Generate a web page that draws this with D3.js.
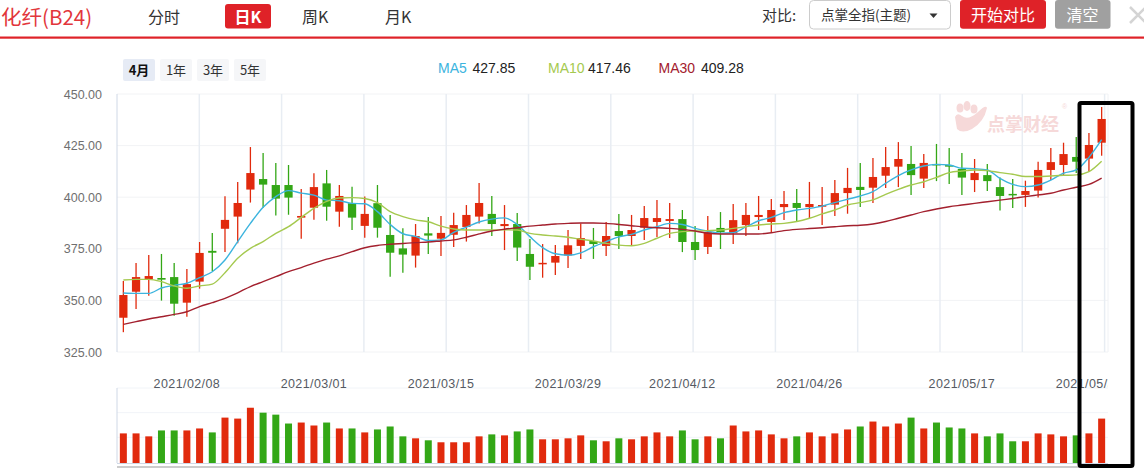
<!DOCTYPE html>
<html>
<head>
<meta charset="utf-8">
<script src="https://cdn.jsdelivr.net/npm/d3@7"></script>
<style>
body { margin: 0; background: #ffffff; overflow: hidden; }
text { font-family: "Liberation Sans", Arial, "Noto Sans CJK SC", sans-serif; }
.cn { font-family: "Noto Sans CJK SC", "Noto Sans", sans-serif; }
</style>
</head>
<body>
<div id="containerKline"></div>
<script>
// trading days shown in the chart (4 months)
var dates = [
	"2021/02/01","2021/02/02","2021/02/03","2021/02/04","2021/02/05",
	"2021/02/08","2021/02/09","2021/02/10","2021/02/18","2021/02/19",
	"2021/02/22","2021/02/23","2021/02/24","2021/02/25","2021/02/26",
	"2021/03/01","2021/03/02","2021/03/03","2021/03/04","2021/03/05",
	"2021/03/08","2021/03/09","2021/03/10","2021/03/11","2021/03/12",
	"2021/03/15","2021/03/16","2021/03/17","2021/03/18","2021/03/19",
	"2021/03/22","2021/03/23","2021/03/24","2021/03/25","2021/03/26",
	"2021/03/29","2021/03/30","2021/03/31","2021/04/01","2021/04/02",
	"2021/04/06","2021/04/07","2021/04/08","2021/04/09",
	"2021/04/12","2021/04/13","2021/04/14","2021/04/15","2021/04/16",
	"2021/04/19","2021/04/20","2021/04/21","2021/04/22","2021/04/23",
	"2021/04/26","2021/04/27","2021/04/28","2021/04/29","2021/04/30",
	"2021/05/06","2021/05/07",
	"2021/05/10","2021/05/11","2021/05/12","2021/05/13","2021/05/14",
	"2021/05/17","2021/05/18","2021/05/19","2021/05/20","2021/05/21",
	"2021/05/24","2021/05/25","2021/05/26","2021/05/27","2021/05/28",
	"2021/05/31","2021/06/01"
];

var opens = [341.6,354.2,360.2,360.85,361.3,348.9,359.1,374.0,384.7,390.6,
	403.7,408.8,405.9,405.9,390.1,394.9,406.7,393.0,397.1,386.1,
	397.1,381.7,375.2,371.7,382.5,379.9,381.8,385.6,390.6,391.9,
	386.0,387.0,372.5,367.8,368.3,371.8,376.4,378.8,376.4,383.6,
	381.2,385.2,388.0,388.5,389.4,378.3,375.9,385.1,382.6,386.5,
	390.4,388.0,395.2,397.2,395.2,395.4,396.4,402.0,405.0,404.6,
	410.4,414.8,416.1,409.0,416.1,415.6,413.7,408.3,410.7,404.9,
	401.6,401.1,403.2,413.2,415.6,419.5,418.7,426.4];

var closes = [352.6,361.3,361.8,360.05,348.4,357.9,373.0,373.1,389.0,397.2,
	411.7,406.1,399.3,399.8,390.9,404.9,395.4,400.6,390.1,391.9,
	385.2,373.1,372.2,381.2,381.4,382.7,386.5,391.4,397.2,387.0,
	387.0,375.6,366.3,368.2,371.5,376.7,380.2,377.3,381.2,381.2,
	384.1,389.9,389.9,389.4,378.3,374.4,383.1,383.1,388.9,391.4,
	391.4,393.8,396.7,394.8,396.7,396.2,402.0,404.5,403.5,409.8,
	414.6,418.5,410.7,416.6,415.4,414.8,409.5,411.7,407.8,400.6,
	401.1,403.0,413.2,417.0,420.9,417.2,425.3,437.9];

var highs = [359.4,368.1,372.0,372.5,368.1,365.2,378.3,382.7,400.5,407.4,
	424.3,421.4,416.6,415.6,404.0,411.6,413.2,405.9,405.1,400.3,
	405.9,391.4,384.9,387.0,390.4,390.9,392.5,396.2,406.9,400.6,
	396.2,392.3,379.7,377.3,376.8,384.1,387.3,385.1,388.0,391.9,
	391.4,395.7,398.6,397.2,393.8,386.0,390.9,392.8,396.7,397.2,
	400.6,399.1,403.0,404.0,407.4,404.9,408.3,414.2,416.6,419.0,
	424.3,426.7,424.8,420.9,425.8,423.8,421.4,418.5,416.1,409.5,
	408.8,408.0,417.2,423.8,426.4,429.2,431.1,443.7];

var lows = [334.6,345.8,352.3,349.9,342.6,342.1,355.7,364.2,373.5,377.7,
	397.4,394.9,391.1,391.5,379.9,389.1,388.6,385.7,384.1,380.4,
	380.4,361.5,363.4,365.9,372.5,371.5,375.9,378.5,387.3,381.2,
	374.4,369.1,359.9,361.0,362.3,365.7,370.1,370.1,371.5,374.9,
	376.5,379.3,380.7,380.2,373.4,369.6,372.5,374.9,377.3,381.2,
	384.1,383.1,389.0,388.5,389.9,386.5,390.9,392.0,395.3,397.2,
	404.5,404.9,401.1,404.5,407.8,406.4,401.1,402.5,403.0,393.5,
	394.8,395.3,399.8,408.3,410.7,411.7,412.4,420.1];

// moving averages as drawn on the chart
var ma5 = [353.6,353.4,353.4,356.0,357.3,358.3,361.0,363.9,369.6,378.5,
	387.3,395.1,400.3,403.2,402.0,401.0,398.6,398.3,397.0,396.8,
	393.0,386.8,382.3,381.0,379.0,379.3,383.0,385.5,388.0,389.4,
	390.0,386.8,380.9,375.6,372.6,371.9,373.0,376.0,378.5,380.8,
	382.0,384.1,385.7,387.3,386.8,384.9,383.5,382.6,382.8,385.6,
	388.6,390.2,392.5,393.8,394.6,395.7,397.4,399.0,400.6,402.7,
	406.7,410.5,413.2,415.1,415.9,415.6,414.0,413.8,413.2,409.1,
	406.2,405.1,405.9,408.3,411.6,413.2,419.3,427.85];

var ma10 = [359.9,360.2,360.2,359.1,357.0,355.9,357.0,357.9,363.4,370.4,
	375.2,378.5,382.5,385.7,390.2,394.6,398.0,399.6,399.8,399.4,
	397.4,393.0,390.6,389.0,388.1,386.0,384.6,384.1,384.1,384.1,
	384.2,384.1,382.5,381.7,381.2,380.6,379.6,378.8,377.6,376.8,
	376.5,377.6,380.1,382.5,383.3,383.6,383.8,384.1,384.9,385.7,
	386.5,387.0,387.3,388.2,389.8,391.9,393.8,396.2,397.4,398.7,
	401.4,403.8,405.9,407.5,409.6,411.9,412.7,413.2,412.9,411.9,
	411.1,410.0,410.0,410.3,410.6,410.8,412.4,417.46];

var ma30 = [338.4,339.7,341.0,342.1,343.2,344.5,347.0,348.9,351.0,353.7,
	356.7,359.1,361.5,363.9,365.9,368.1,370.0,371.6,373.6,375.5,
	376.6,377.2,377.6,378.0,378.3,378.8,379.3,380.6,382.2,383.6,
	384.5,385.2,386.0,386.5,387.0,387.3,387.5,387.5,387.3,386.8,
	386.2,385.6,385.2,384.9,384.4,383.6,382.5,382.2,382.2,382.2,
	382.2,382.8,383.8,384.4,384.8,385.2,385.7,386.2,386.4,387.0,
	388.2,389.8,391.4,393.0,394.3,395.4,396.2,397.0,397.8,398.6,
	399.4,400.3,401.1,401.9,403.5,404.8,406.2,409.28];

var volumes = [30,30,27,33,33,33,35,31,46,45,
	56,51,49,40,41,38,41,35,35,31,
	34,37,27,25,23,21,21,21,27,29,
	28,32,34,24,24,25,28,23,22,25,
	24,27,31,27,33,24,27,25,38,32,
	33,29,25,27,31,27,30,34,37,42,
	37,40,46,35,41,36,35,30,27,30,
	22,22,30,29,27,28,30,45];

var tickDates = ["2021/02/08","2021/03/01","2021/03/15","2021/03/29",
	"2021/04/12","2021/04/26","2021/05/17","2021/05/31"];
var yTicks = [325, 350, 375, 400, 425, 450];

var maNames = ["MA5", "MA10", "MA30"];
var maLast = ["427.85", "417.46", "409.28"];
var periods = ["4月", "1年", "3年", "5年"];
var tabs = ["分时", "日K", "周K", "月K"];

var svgKline;

// colours used by the chart
var upColor = "#e12a0d";
var downColor = "#33a716";
var maColors = ["#3cb4de", "#a5c94f", "#a3202e"];

// header with tabs, compare controls and period buttons
function drawHeader() {

	svgKline.append("text")
		.attr("class", "cn")
		.attr("x", 1)
		.attr("y", 25)
		.style("font-size", "20.5px")
		.style("fill", "#e2363b")
		.text("化纤(B24)");

	var tabX = [148, 225, 302, 385];
	svgKline.append("rect")
		.attr("x", 225).attr("y", 4)
		.attr("width", 46).attr("height", 24.5)
		.attr("rx", 3)
		.style("fill", "#df2228");
	svgKline.selectAll(".tab")
		.data(tabs)
		.enter()
		.append("text")
		.attr("class", "tab cn")
		.attr("x", function(d, i) { return i == 1 ? 248 : tabX[i]; })
		.attr("y", 23)
		.style("text-anchor", function(d, i) { return i == 1 ? "middle" : "start"; })
		.style("font-size", "16px")
		.style("font-weight", function(d, i) { return i == 1 ? "bold" : "normal"; })
		.style("fill", function(d, i) { return i == 1 ? "#ffffff" : "#333333"; })
		.text(function(d) { return d; });

	// red line under the tabs
	svgKline.append("rect")
		.attr("x", 0).attr("y", 36.5)
		.attr("width", 1144).attr("height", 2.2)
		.style("fill", "#df2228");

	svgKline.append("text")
		.attr("class", "cn")
		.attr("x", 762).attr("y", 21)
		.style("font-size", "15px")
		.style("fill", "#333")
		.text("对比:");

	svgKline.append("rect")
		.attr("x", 809.5).attr("y", 0.5)
		.attr("width", 141).attr("height", 28.5)
		.attr("rx", 4)
		.style("fill", "#fff")
		.style("stroke", "#cccccc");
	svgKline.append("text")
		.attr("class", "cn")
		.attr("x", 821).attr("y", 20)
		.style("font-size", "13.5px")
		.style("fill", "#333")
		.text("点掌全指(主题)");
	svgKline.append("path")
		.attr("d", "M929.5,13.5 L937.5,13.5 L933.5,18 Z")
		.style("fill", "#333");

	svgKline.append("rect")
		.attr("x", 960).attr("y", 0)
		.attr("width", 86).attr("height", 28.7)
		.attr("rx", 3)
		.style("fill", "#df2228");
	svgKline.append("text")
		.attr("class", "cn")
		.attr("x", 1003).attr("y", 20.5)
		.style("text-anchor", "middle")
		.style("font-size", "16px")
		.style("fill", "#fff")
		.text("开始对比");

	svgKline.append("rect")
		.attr("x", 1055).attr("y", 0)
		.attr("width", 55.5).attr("height", 28.7)
		.attr("rx", 3)
		.style("fill", "#a0a0a0");
	svgKline.append("text")
		.attr("class", "cn")
		.attr("x", 1082.5).attr("y", 20.5)
		.style("text-anchor", "middle")
		.style("font-size", "16px")
		.style("fill", "#fff")
		.text("清空");

	// close cross, cut by the window edge
	svgKline.append("path")
		.attr("d", "M1130,7 L1146,23 M1146,7 L1130,23")
		.style("stroke", "#d4d4d4")
		.style("stroke-width", 2.5);

	// period buttons
	var btn = svgKline.selectAll(".period")
		.data(periods)
		.enter()
		.append("g")
		.attr("class", "period")
		.attr("transform", function(d, i) { return "translate(" + (123 + i * 37) + ",59)"; });
	btn.append("rect")
		.attr("width", 32).attr("height", 22)
		.attr("rx", 2)
		.style("fill", function(d, i) { return i == 0 ? "#e6ebf5" : "#f5f6f8"; });
	btn.append("text")
		.attr("class", "cn")
		.attr("x", 16).attr("y", 16)
		.style("text-anchor", "middle")
		.style("font-size", "13px")
		.style("font-weight", function(d, i) { return i == 0 ? "bold" : "normal"; })
		.style("fill", function(d, i) { return i == 0 ? "#111" : "#333"; })
		.text(function(d) { return d; });

	// moving average legend
	var legX = [438, 548, 658.5];
	var valX = [472.5, 588, 701];
	svgKline.selectAll(".maName")
		.data(maNames)
		.enter()
		.append("text")
		.attr("class", "maName")
		.attr("x", function(d, i) { return legX[i]; })
		.attr("y", 72.5)
		.style("font-size", "14px")
		.style("fill", function(d, i) { return maColors[i]; })
		.text(function(d) { return d; });
	svgKline.selectAll(".maVal")
		.data(maLast)
		.enter()
		.append("text")
		.attr("class", "maVal")
		.attr("x", function(d, i) { return valX[i]; })
		.attr("y", 72.5)
		.style("font-size", "14px")
		.style("fill", "#222")
		.text(function(d) { return d; });
};

// watermark in the top right of the price panel
function drawWatermark() {
	var wm = svgKline.append("g").style("fill", "#f6d9d9");
	wm.append("ellipse").attr("cx", 960).attr("cy", 108).attr("rx", 3.5).attr("ry", 4.5);
	wm.append("ellipse").attr("cx", 967).attr("cy", 106).attr("rx", 3.5).attr("ry", 5);
	wm.append("ellipse").attr("cx", 974).attr("cy", 109).attr("rx", 3.5).attr("ry", 4.5);
	wm.append("path")
		.attr("d", "M955,117 Q957,112 962,116 Q968,121 978,112 Q986,104 987,108 Q984,122 972,129 Q962,134 957,129 Z");
	wm.append("text")
		.attr("class", "cn")
		.attr("x", 987).attr("y", 131)
		.style("font-size", "18px")
		.style("font-weight", "bold")
		.text("点掌财经");
	wm.append("text")
		.attr("x", 1062).attr("y", 109)
		.style("font-size", "7px")
		.text("®");
};

// draws candles, moving averages and volume bars
function drawKline() {

	var width = 1144;
	var height = 469;
	var margin = {left: 117, right: 36, top: 94, bottom: 352};
	var vol = {top: 388, bottom: 463};

	svgKline = d3.select("#containerKline")
		.append("svg")
		.attr("width", width)
		.attr("height", height);

	drawHeader();

	// labels are cut at the right edge of the plot
	svgKline.append("clipPath")
		.attr("id", "plotClip")
		.append("rect")
		.attr("x", 0).attr("y", 0)
		.attr("width", 1108).attr("height", height);

	// scales
	var x = d3.scaleBand()
		.domain(dates)
		.range([margin.left, width - margin.right])
		.paddingInner(0.35)
		.paddingOuter(0.175);
	var y = d3.scaleLinear()
		.domain([325, 450])
		.range([margin.bottom, margin.top]);
	var yVol = d3.scaleLinear()
		.domain([0, 76])
		.range([vol.bottom, vol.top]);
	var grid = d3.scaleLinear()
		.domain([0, 12])
		.range([margin.left, 1104.6]);

	var center = function(d) { return x(d) + x.bandwidth() / 2; };

	// grid lines
	svgKline.append("g")
		.selectAll("line")
		.data(yTicks)
		.enter()
		.append("line")
		.attr("x1", margin.left).attr("x2", 1108)
		.attr("y1", function(d) { return y(d); })
		.attr("y2", function(d) { return y(d); })
		.style("stroke", "#f2f3f5");
	svgKline.append("g")
		.selectAll("line")
		.data(d3.range(1, 13))
		.enter()
		.append("line")
		.attr("x1", function(d) { return grid(d); })
		.attr("x2", function(d) { return grid(d); })
		.attr("y1", margin.top).attr("y2", margin.bottom)
		.style("stroke", "#e8edf3")
		.style("stroke-width", 1.5);
	svgKline.append("line")
		.attr("x1", 1108).attr("x2", 1108)
		.attr("y1", margin.top).attr("y2", margin.bottom)
		.style("stroke", "#f0f2f5");
	svgKline.append("g")
		.selectAll("line")
		.data([0, 25, 50])
		.enter()
		.append("line")
		.attr("x1", margin.left).attr("x2", 1108)
		.attr("y1", function(d) { return yVol(76 - d) ; })
		.attr("y2", function(d) { return yVol(76 - d); })
		.style("stroke", "#f1f4f8");

	// axis lines
	svgKline.append("line")
		.attr("x1", margin.left).attr("x2", margin.left)
		.attr("y1", margin.top).attr("y2", margin.bottom)
		.style("stroke", "#cfd8e6");
	svgKline.append("line")
		.attr("x1", margin.left).attr("x2", margin.left)
		.attr("y1", vol.top).attr("y2", vol.bottom)
		.style("stroke", "#cfd8e6");
	svgKline.append("line")
		.attr("x1", margin.left).attr("x2", 1108)
		.attr("y1", vol.bottom + 0.5).attr("y2", vol.bottom + 0.5)
		.style("stroke", "#cfd8e6");
	svgKline.append("rect")
		.attr("x", margin.left).attr("y", 466)
		.attr("width", 1108 - margin.left).attr("height", 2)
		.style("fill", "#cccccc");

	// y axis labels
	var yAxis = d3.axisLeft(y)
		.tickValues(yTicks)
		.tickFormat(d3.format(".2f"))
		.tickSize(0)
		.tickPadding(15);
	var gy = svgKline.append("g")
		.attr("transform", "translate(" + margin.left + ",0)")
		.call(yAxis);
	gy.select(".domain").remove();
	gy.selectAll("text")
		.style("font-family", "'Liberation Sans', Arial, sans-serif")
		.style("font-size", "12.5px")
		.style("fill", "#6f6f6f");

	// date labels
	var xAxis = d3.axisBottom(x)
		.tickValues(tickDates)
		.tickSize(0)
		.tickPadding(5);
	var gx = svgKline.append("g")
		.attr("clip-path", "url(#plotClip)")
		.append("g")
		.attr("transform", "translate(0,374)")
		.call(xAxis);
	gx.select(".domain").remove();
	gx.selectAll("text")
		.style("font-family", "'Liberation Sans', Arial, sans-serif")
		.style("font-size", "12.5px")
		.style("letter-spacing", "0.4px")
		.style("fill", "#555a63");

	drawWatermark();

	var isUp = function(i) { return closes[i] >= opens[i]; };

	// wicks
	svgKline.append("g")
		.selectAll("line")
		.data(dates)
		.enter()
		.append("line")
		.attr("x1", center).attr("x2", center)
		.attr("y1", function(d, i) { return y(highs[i]); })
		.attr("y2", function(d, i) { return y(lows[i]); })
		.style("stroke", function(d, i) { return isUp(i) ? upColor : downColor; })
		.style("stroke-width", 1.3);

	// bodies
	svgKline.append("g")
		.selectAll("rect")
		.data(dates)
		.enter()
		.append("rect")
		.attr("x", function(d) { return x(d); })
		.attr("width", x.bandwidth())
		.attr("y", function(d, i) { return y(Math.max(opens[i], closes[i])); })
		.attr("height", function(d, i) {
			return Math.max(1.5, Math.abs(y(opens[i]) - y(closes[i])));
		})
		.style("fill", function(d, i) { return isUp(i) ? upColor : downColor; });

	// moving average lines
	var maData = [ma5, ma10, ma30];
	var line = d3.line()
		.x(function(d, i) { return center(dates[i]); })
		.y(function(d) { return y(d); })
		.curve(d3.curveMonotoneX);
	svgKline.append("g")
		.selectAll("path")
		.data(maData)
		.enter()
		.append("path")
		.attr("d", line)
		.style("fill", "none")
		.style("stroke", function(d, i) { return maColors[i]; })
		.style("stroke-width", 1.4);

	// volume bars
	svgKline.append("g")
		.selectAll("rect")
		.data(dates)
		.enter()
		.append("rect")
		.attr("x", function(d) { return center(d) - 3.5; })
		.attr("width", 7)
		.attr("y", function(d, i) { return yVol(volumes[i]); })
		.attr("height", function(d, i) { return yVol(0) - yVol(volumes[i]); })
		.style("fill", function(d, i) { return isUp(i) ? upColor : downColor; });

	// black highlight box drawn over the last candle
	svgKline.append("rect")
		.attr("x", 1079.5).attr("y", 103)
		.attr("width", 53).attr("height", 363)
		.attr("rx", 1.5)
		.style("fill", "none")
		.style("stroke", "#000")
		.style("stroke-width", 4);
};

drawKline();
</script>
</body>
</html>
